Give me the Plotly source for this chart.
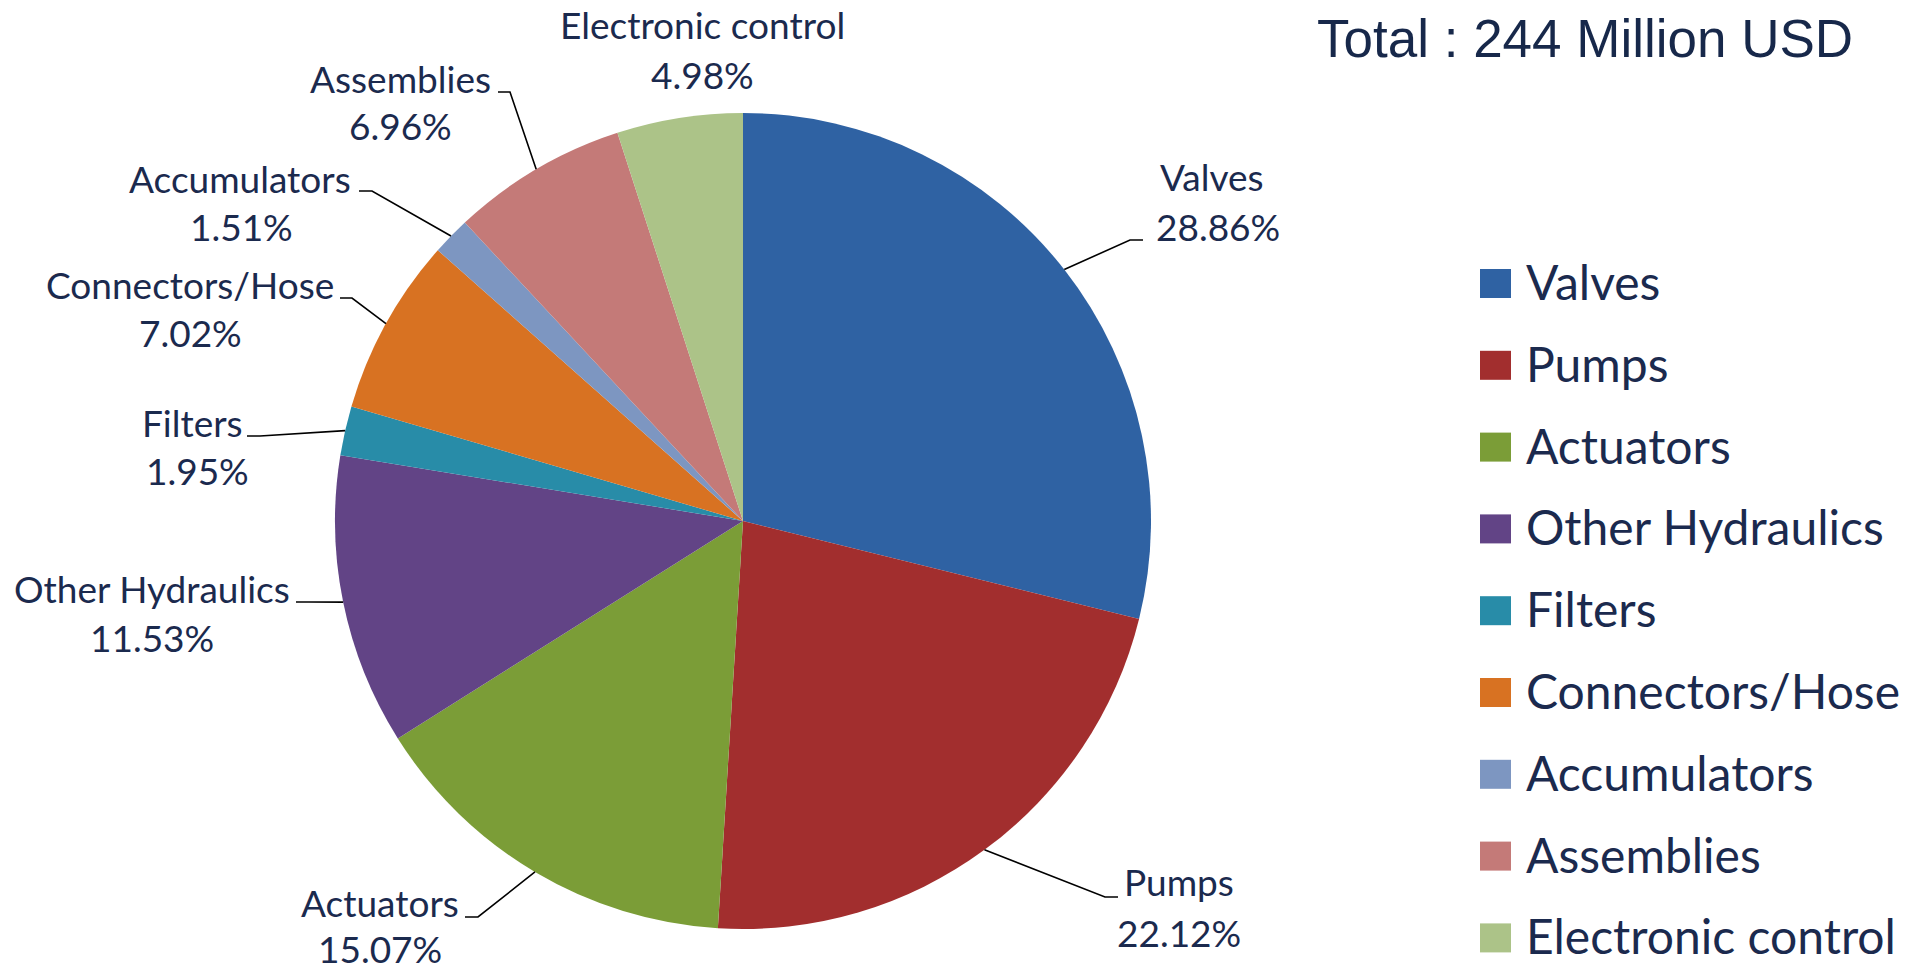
import math
import plotly.graph_objects as go

# ---------------- data ----------------
categories = ["Valves", "Pumps", "Actuators", "Other Hydraulics", "Filters",
              "Connectors/Hose", "Accumulators", "Assemblies", "Electronic control"]
shares = [28.86, 22.12, 15.07, 11.53, 1.95, 7.02, 1.51, 6.96, 4.98]
pct_labels = ["28.86%", "22.12%", "15.07%", "11.53%", "1.95%",
              "7.02%", "1.51%", "6.96%", "4.98%"]
title_text = "Total : 244 Million USD"

# ---------------- styles / layout ----------------
colors = ["#2f62a3", "#a22e2e", "#7b9d37", "#624486", "#288ca8",
          "#d87222", "#7d96c1", "#c47a78", "#acc388"]
TEXT = "#1b2a4e"
W, H = 1921, 972
CX, CY, R = 743, 521, 408          # pie centre / radius in pixels
LABEL_FONT = 37
LEGEND_FONT = 48

# label placement (pixels): name centre, pct centre, leader end point, elbow offset
label_layout = [
    ((1212, 176), (1218, 226), (1143, 240), -13),
    ((1179, 881), (1179, 932), (1118, 897), -13),
    ((380, 902), (380, 948), (465, 917), 13),
    ((152, 588), (152, 637), (296, 602), 13),
    ((192, 422), (197, 470), (247, 436), 13),
    ((190, 285), (190, 333), (340, 298), 12),
    ((240, 178), (241, 226), (359, 191), 13),
    ((400, 78), (400, 125), (498, 92), 12),
    ((702, 25), (702, 74), None, 0),
]


def fx(x):
    return x / W


def fy(y):
    return 1 - y / H


fig = go.Figure()
fig.add_trace(go.Pie(
    labels=categories,
    values=shares,
    sort=False,
    direction="clockwise",
    rotation=0,
    marker=dict(colors=colors, line=dict(width=0)),
    textinfo="none",
    hoverinfo="label+percent",
    showlegend=False,
    domain=dict(x=[fx(CX - R), fx(CX + R)], y=[fy(CY + R), fy(CY - R)]),
))

annotations = []
shapes = []

# data labels with leader lines
total = sum(shares)
cum = 0.0
for name, val, pct, lay in zip(categories, shares, pct_labels, label_layout):
    mid = (cum + val / 2) / total * 2 * math.pi
    cum += val
    (nx, ny), (qx, qy), end, elbow_dx = lay
    annotations.append(dict(x=fx(nx), y=fy(ny), xref="paper", yref="paper",
                            text=name, showarrow=False, xanchor="center", yanchor="middle",
                            font=dict(family="Lato", size=LABEL_FONT, color=TEXT)))
    annotations.append(dict(x=fx(qx), y=fy(qy), xref="paper", yref="paper",
                            text=pct, showarrow=False, xanchor="center", yanchor="middle",
                            font=dict(family="Lato", size=LABEL_FONT, color=TEXT)))
    if end is not None:
        ex = CX + R * math.sin(mid)
        ey = CY - R * math.cos(mid)
        bx, by = end[0] + elbow_dx, end[1]
        path = "M {} {} L {} {} L {} {}".format(fx(ex), fy(ey), fx(bx), fy(by), fx(end[0]), fy(end[1]))
        shapes.append(dict(type="path", path=path, xref="paper", yref="paper",
                           line=dict(color="black", width=1.6)))

# legend (swatch + text)
LEG_X0, LEG_X1, LEG_Y0, LEG_STEP, LEG_HALF = 1480, 1511, 283.5, 81.8, 14.5
for i, (name, col) in enumerate(zip(categories, colors)):
    yc = LEG_Y0 + i * LEG_STEP
    shapes.append(dict(type="rect", xref="paper", yref="paper",
                       x0=fx(LEG_X0), x1=fx(LEG_X1), y0=fy(yc + LEG_HALF), y1=fy(yc - LEG_HALF),
                       fillcolor=col, line=dict(width=0)))
    annotations.append(dict(x=fx(1524), y=fy(yc - 2), xref="paper", yref="paper",
                            text=name, showarrow=False, xanchor="left", yanchor="middle",
                            font=dict(family="Lato", size=LEGEND_FONT, color=TEXT)))

# title
annotations.append(dict(x=fx(1855), y=fy(39), xref="paper", yref="paper",
                        text=title_text, showarrow=False, xanchor="right", yanchor="middle",
                        font=dict(family="Liberation Sans", size=53, color="#17284a")))

fig.update_layout(
    width=W, height=H,
    margin=dict(l=0, r=0, t=0, b=0),
    paper_bgcolor="white",
    plot_bgcolor="white",
    annotations=annotations,
    shapes=shapes,
    showlegend=False,
)

fig.write_html("out.html", config={"displayModeBar": False},
               post_script="document.body.style.margin='0';document.body.style.overflow='hidden';")
